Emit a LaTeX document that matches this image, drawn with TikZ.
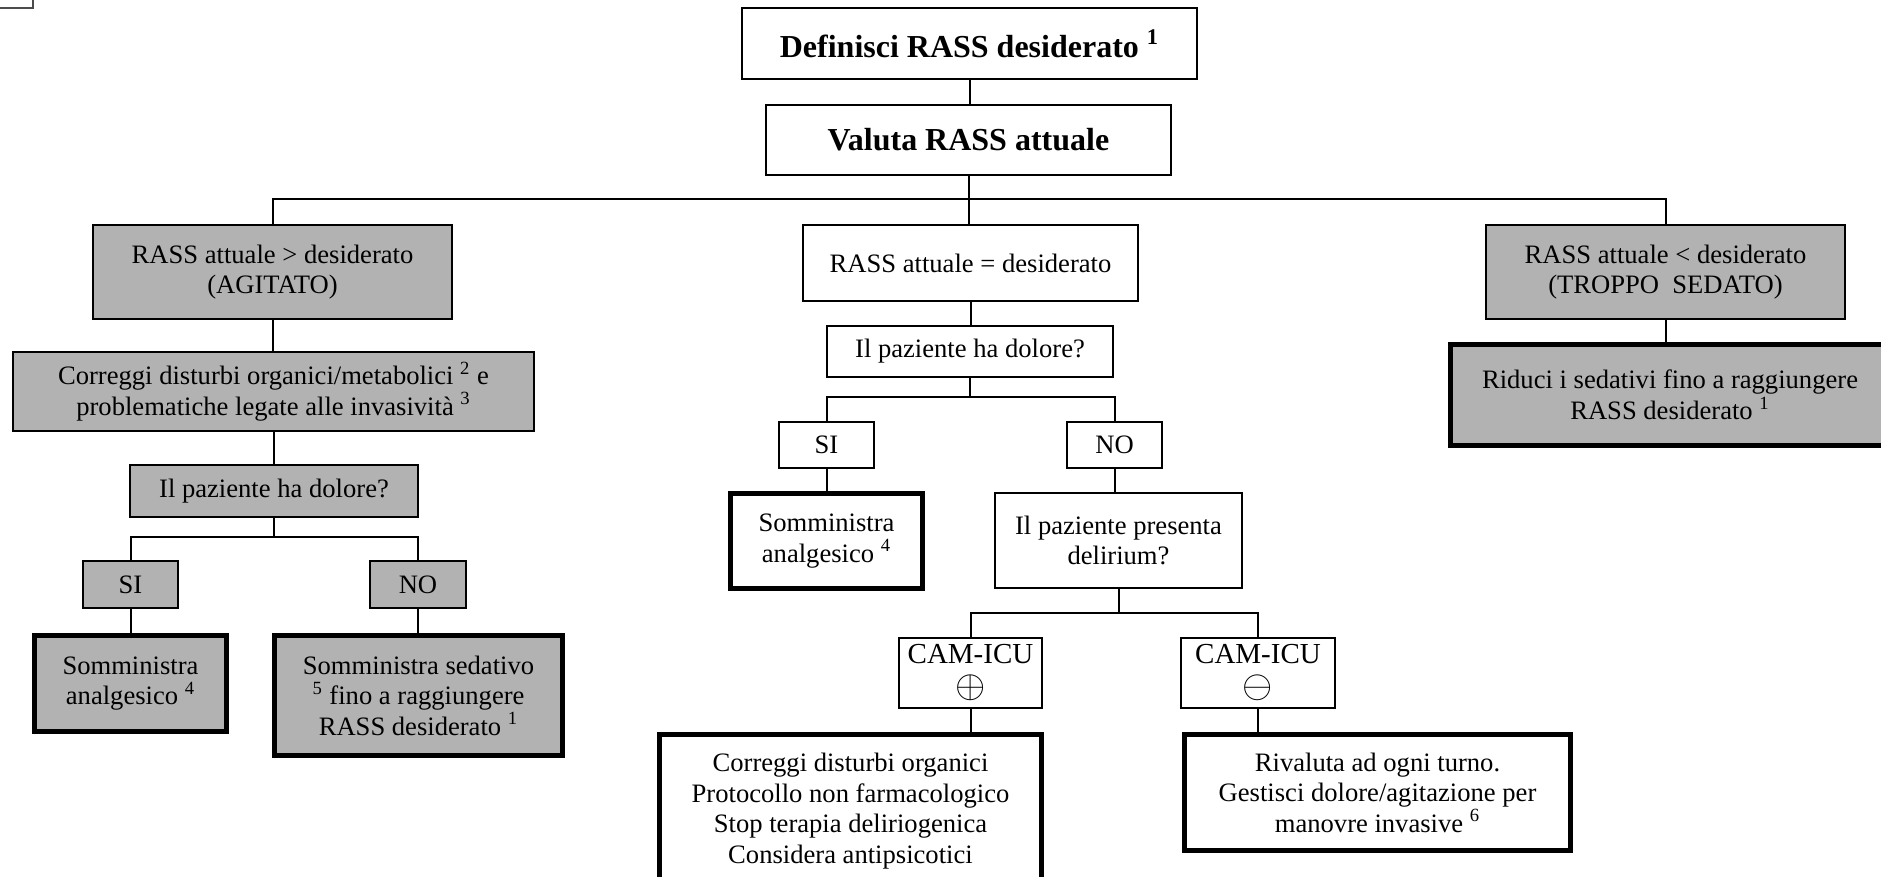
\documentclass[tikz,border=0pt]{standalone}
\usepackage{fontspec}
\usepackage{graphicx}
\setmainfont{Liberation Serif}

\begin{document}
\begin{tikzpicture}[x=0.5pt,y=-0.5pt]
\tikzstyle{every node}+=[inner sep=0pt]
\tikzstyle{box}=[draw,line width=1pt,align=center,font=\fontsize{13.3}{15.3}\selectfont]
\tikzstyle{grey}=[box,fill=black!30]
\tikzstyle{final}=[line width=2.5pt]
\tikzstyle{title}=[font=\fontsize{16}{19}\selectfont\bfseries]
\tikzstyle{cam}=[font=\fontsize{14.5}{14}\selectfont]
\tikzstyle{link}=[line width=1pt]
\useasboundingbox (0,0) rectangle (1881,877);
% leftover frame in the corner
\draw [black!70,line width=0.8pt] (-10,-10) rectangle (33,8);
% top
\node [box,title,minimum width=227.5pt,minimum height=35.5pt] (def) at (969.5,43.5) {Definisci RASS desiderato \textsuperscript{1}};
\node [box,title,minimum width=202.5pt,minimum height=35pt] (val) at (968.5,140) {Valuta RASS attuale};
% left branch: agitato
\node [grey,minimum width=179.5pt,minimum height=47pt] (agit) at (272.5,272) {RASS attuale > desiderato\\(AGITATO)};
\node [grey,minimum width=260.5pt,minimum height=39.5pt] (corr) at (273.5,391.5) {Correggi disturbi organici/metabolici \textsuperscript{2} e\\problematiche legate alle invasività \textsuperscript{3}};
\node [grey,minimum width=144pt,minimum height=26pt] (dolL) at (274,491) {Il paziente ha dolore?};
\node [grey,minimum width=47.5pt,minimum height=23.5pt] (siL) at (130.5,584.5) {SI};
\node [grey,minimum width=48pt,minimum height=23.5pt] (noL) at (418,584.5) {NO};
\node [grey,final,minimum width=96pt,minimum height=48pt] (anaL) at (130.5,683.5) {Somministra\\analgesico \textsuperscript{4}};
\node [grey,final,minimum width=144pt,minimum height=60pt] (sedL) at (418.5,695.5) {Somministra sedativo\\\textsuperscript{5} fino a raggiungere\\RASS desiderato \textsuperscript{1}};
% middle branch
\node [box,minimum width=167.5pt,minimum height=38pt] (eq) at (970.5,263) {RASS attuale = desiderato};
\node [box,minimum width=143pt,minimum height=25.5pt] (dolC) at (970,351.5) {Il paziente ha dolore?};
\node [box,minimum width=47.5pt,minimum height=23pt] (siC) at (826.5,445) {SI};
\node [box,minimum width=47.5pt,minimum height=23pt] (noC) at (1114.5,445) {NO};
\node [box,final,minimum width=96pt,minimum height=47.5pt] (anaC) at (826.5,541) {Somministra\\analgesico \textsuperscript{4}};
\node [box,minimum width=123.5pt,minimum height=47.5pt] (del) at (1118.5,540.5) {Il paziente presenta\\delirium?};
\node [box,cam,minimum width=71.5pt,minimum height=35pt] (camP) at (970.5,673) {CAM-ICU\\[3pt]\scalebox{1.35}{$\oplus$}};
\node [box,cam,minimum width=77pt,minimum height=35pt] (camM) at (1258,673) {CAM-ICU\\[3pt]\scalebox{1.35}{$\ominus$}};
\node [box,final,minimum width=191pt,minimum height=76.5pt] (corrD) at (850.5,811) {Correggi disturbi organici\\Protocollo non farmacologico\\Stop terapia deliriogenica\\Considera antipsicotici};
\node [box,final,minimum width=193pt,minimum height=58pt] (riv) at (1377.5,792.5) {Rivaluta ad ogni turno.\\Gestisci dolore/agitazione per\\manovre invasive \textsuperscript{6}};
% right branch: troppo sedato
\node [grey,minimum width=179.5pt,minimum height=47pt] (trop) at (1665.5,272) {RASS attuale < desiderato\\(TROPPO~~SEDATO)};
\node [grey,final,minimum width=219.75pt,minimum height=50.5pt] (rid) at (1670,395) {Riduci i sedativi fino a raggiungere\\RASS desiderato \textsuperscript{1}};
% connectors
\draw [link] (def.south) -- (def.south |- val.north);
\draw [link] (val.south) -- ++(0,23) coordinate (top) -| (agit.north);
\draw [link] (top) -| (trop.north);
\draw [link] (top) -- (top |- eq.north);
\draw [link] (agit.south) -- (agit.south |- corr.north);
\draw [link] (corr.south) -- (corr.south |- dolL.north);
\draw [link] (dolL.south) -- ++(0,19) coordinate (forkL) -| (siL.north);
\draw [link] (forkL) -| (noL.north);
\draw [link] (siL.south) -- (siL.south |- anaL.north);
\draw [link] (noL.south) -- (noL.south |- sedL.north);
\draw [link] (eq.south) -- (eq.south |- dolC.north);
\draw [link] (dolC.south) -- ++(0,19) coordinate (forkC) -| (siC.north);
\draw [link] (forkC) -| (noC.north);
\draw [link] (siC.south) -- (siC.south |- anaC.north);
\draw [link] (noC.south) -- (noC.south |- del.north);
\draw [link] (del.south) -- ++(0,24) coordinate (forkD) -| (camP.north);
\draw [link] (forkD) -| (camM.north);
\draw [link] (camP.south) -- (camP.south |- corrD.north);
\draw [link] (camM.south) -- (camM.south |- riv.north);
\draw [link] (trop.south) -- (trop.south |- rid.north);
\end{tikzpicture}
\end{document}
